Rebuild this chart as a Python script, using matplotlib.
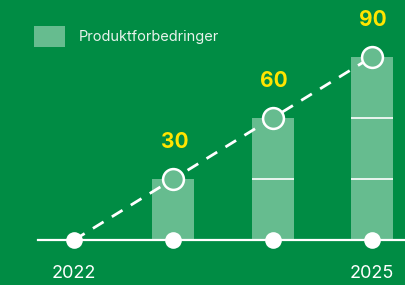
import matplotlib
matplotlib.use("Agg")
import matplotlib.pyplot as plt
from matplotlib.patches import Rectangle

years = ["2022", "2023", "2024", "2025"]
values = [0, 30, 60, 90]
segment = 30
tick_labels = ["2022", "", "", "2025"]
legend_label = "Produktforbedringer"

bg = "#008C44"
bar_col = "#66BC8F"
yellow = "#FFE500"

plt.rcParams['font.family'] = ['Inter', 'DejaVu Sans']

fig = plt.figure(figsize=(4.05, 2.85), dpi=100, facecolor=bg)
ax = fig.add_axes([0, 0, 1, 1])
ax.set_facecolor(bg)

x = list(range(len(years)))
# stacked segments
for xi, v in zip(x, values):
    n = int(v // segment)
    for k in range(n):
        ax.bar(xi, segment, bottom=k * segment, width=0.423, color=bar_col,
               edgecolor='none', zorder=1)
    for k in range(1, n):
        ax.plot([xi - 0.2115, xi + 0.2115], [k * segment, k * segment],
                color='white', lw=1.2, zorder=2, solid_capstyle='butt')

# baseline
ax.plot([-0.363, 3.4], [0, 0], color='white', lw=1.6, zorder=3)

# dashed line
ax.plot(x, values, color='white', lw=2, dashes=(4.5, 3.5), zorder=4)

# open circles at top
ax.plot(x[1:], values[1:], 'o', ms=15, mfc=bar_col, mec='white', mew=1.8, zorder=5)
# filled dots on axis
ax.plot(x, [0] * len(x), 'o', ms=12, mfc='white', mec='none', zorder=6)

# value labels
for xi, v in zip(x[1:], values[1:]):
    ax.text(xi + 0.01, v + 18, str(v), color=yellow, fontsize=15, fontweight='bold',
            ha='center', va='center', zorder=7)

# year labels
for xi, t in zip(x, tick_labels):
    if t:
        ax.text(xi, -16.3, t, color='white', fontsize=13, ha='center', va='center')

# legend (manual)
ax.add_patch(Rectangle((34 / 405, 1 - 47 / 285), 31 / 405, 21 / 285,
                       transform=ax.transAxes, facecolor=bar_col, edgecolor='none'))
ax.text(79 / 405, 1 - 37 / 285, legend_label, transform=ax.transAxes,
        color='#E8F3EC', fontsize=10.5, ha='left', va='center')

ax.set_xlim(-0.745, 3.333)
ax.set_ylim(-22.1, 118.0)
ax.axis('off')

fig.savefig("out.png", dpi=100, facecolor=bg)
